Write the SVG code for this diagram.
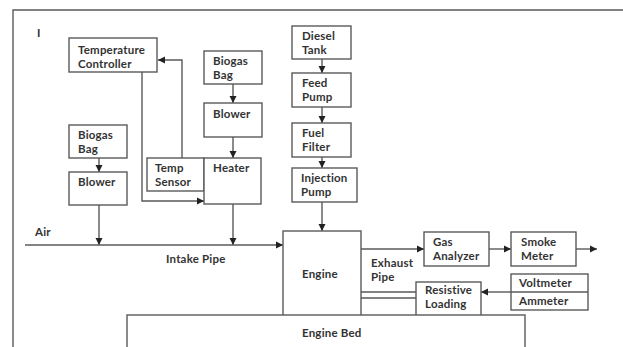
<svg xmlns="http://www.w3.org/2000/svg" width="623" height="347" viewBox="0 0 623 347">
<defs>
<marker id="ah" markerWidth="8" markerHeight="8" refX="7" refY="4" orient="auto" markerUnits="userSpaceOnUse">
<path d="M0,0.5 L7,4 L0,7.5 Z" fill="#222"/>
</marker>
<style>
.b{fill:#fff;stroke:#5a5a5a;stroke-width:1.4}
.c{fill:none;stroke:#5a5a5a;stroke-width:1.4}
.a{fill:none;stroke:#5a5a5a;stroke-width:1.4;marker-end:url(#ah)}
text{font-family:Lato,"Open Sans","Liberation Sans",sans-serif;font-size:11.5px;fill:#333;font-weight:700;letter-spacing:0.2px}
</style>
</defs>
<rect width="623" height="347" fill="#fff"/>
<g id="frame">
<path class="c" d="M13,347 V10 H623" stroke="#777"/>
<text x="37" y="37" font-size="13">I</text>
</g>
<g id="connectors">
<path class="a" d="M182,158 V60 H158"/>
<path class="a" d="M142,72 V201 H204"/>
<path class="a" d="M233,84 V103"/>
<path class="a" d="M233,137 V158"/>
<path class="a" d="M99,158 V172"/>
<path class="a" d="M99,205 V245"/>
<path class="a" d="M233,204 V245"/>
<path class="a" d="M25,245 H283"/>
<path class="a" d="M322,59 V73"/>
<path class="a" d="M322,107 V123"/>
<path class="a" d="M322,157 V168"/>
<path class="a" d="M322,202 V231"/>
<path class="a" d="M361,249 H424"/>
<path class="a" d="M489,249 H511"/>
<path class="a" d="M576,249 H597"/>
<path class="a" d="M511,292 H481"/>
<path class="c" d="M361,292 H416 M361,298 H416"/>
</g>
<g id="temperature-controller"><rect class="b" x="69" y="38" width="88" height="34"/><text x="78" y="53.5">Temperature</text><text x="78" y="67.5">Controller</text></g>
<g id="biogas-bag-1"><rect class="b" x="204" y="51" width="58" height="33"/><text x="213" y="64.5">Biogas</text><text x="213" y="78.5">Bag</text></g>
<g id="blower-1"><rect class="b" x="204" y="103" width="58" height="34"/><text x="213" y="118">Blower</text></g>
<g id="biogas-bag-2"><rect class="b" x="69" y="125" width="58" height="33"/><text x="78" y="138.5">Biogas</text><text x="78" y="152.5">Bag</text></g>
<g id="blower-2"><rect class="b" x="69" y="172" width="58" height="33"/><text x="78" y="186">Blower</text></g>
<g id="temp-sensor"><rect class="b" x="147" y="158" width="57" height="33"/><text x="155" y="171.5">Temp</text><text x="155" y="185.5">Sensor</text></g>
<g id="heater"><rect class="b" x="204" y="158" width="57" height="46"/><text x="213" y="172">Heater</text></g>
<g id="diesel-tank"><rect class="b" x="292" y="26" width="59" height="33"/><text x="302" y="39.5">Diesel</text><text x="302" y="53.5">Tank</text></g>
<g id="feed-pump"><rect class="b" x="292" y="73" width="59" height="34"/><text x="302" y="86.5">Feed</text><text x="302" y="100.5">Pump</text></g>
<g id="fuel-filter"><rect class="b" x="292" y="123" width="59" height="34"/><text x="302" y="136.5">Fuel</text><text x="302" y="150.5">Filter</text></g>
<g id="injection-pump"><rect class="b" x="292" y="168" width="65" height="34"/><text x="301" y="181.5">Injection</text><text x="301" y="195.5">Pump</text></g>
<g id="engine"><rect class="b" x="283" y="231" width="78" height="90"/><text x="302" y="278">Engine</text></g>
<g id="gas-analyzer"><rect class="b" x="424" y="232" width="65" height="34"/><text x="433" y="245.5">Gas</text><text x="433" y="259.5">Analyzer</text></g>
<g id="smoke-meter"><rect class="b" x="511" y="232" width="65" height="34"/><text x="521" y="245.5">Smoke</text><text x="521" y="259.5">Meter</text></g>
<g id="resistive-loading"><rect class="b" x="416" y="282" width="65" height="40"/><text x="425" y="293.5">Resistive</text><text x="425" y="307.5">Loading</text></g>
<g id="voltmeter-ammeter"><rect class="b" x="511" y="274" width="77" height="36"/><path class="c" d="M511,292 H588"/><text x="519" y="287">Voltmeter</text><text x="519" y="305">Ammeter</text></g>
<g id="engine-bed"><rect class="b" x="127" y="315" width="398" height="40"/><text x="302" y="337">Engine Bed</text></g>
<g id="labels">
<text x="35" y="236">Air</text>
<text x="166" y="263">Intake Pipe</text>
<text x="371" y="266.5">Exhaust</text>
<text x="371" y="280.5">Pipe</text>
</g>
</svg>
